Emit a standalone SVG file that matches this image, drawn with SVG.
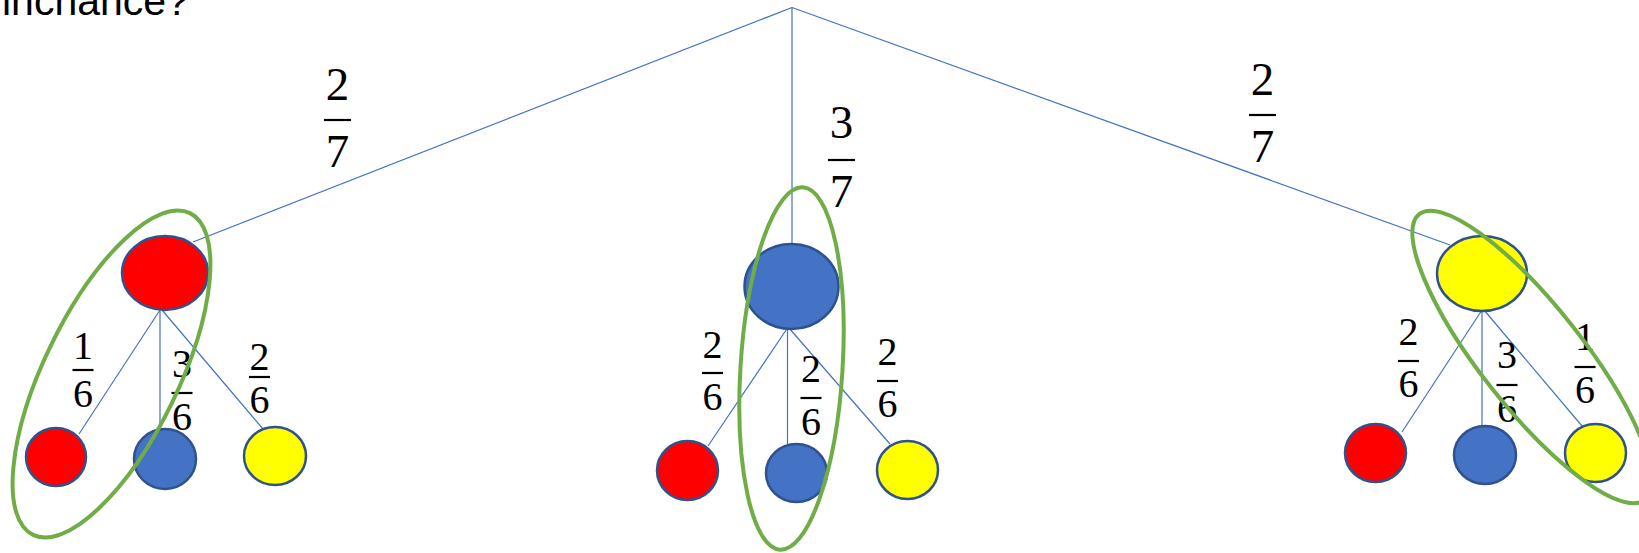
<svg xmlns="http://www.w3.org/2000/svg" width="1639" height="553" viewBox="0 0 1639 553">
<style>
.bg{fill:#ffffff}
.conn line{stroke:#4472C4;stroke-width:1.2;fill:none}
.node ellipse{stroke:#2F528F;stroke-width:2.5}
.red{fill:#FF0000}
.blue{fill:#4472C4}
.yellow{fill:#FFFF00}
.grp{fill:none;stroke:#70AD47;stroke-width:4}
.title{font-family:"Liberation Sans","Open Sans",sans-serif;font-size:41px;fill:#000}
.fb{font-family:"Liberation Serif","DejaVu Serif",serif;font-size:47px;fill:#000;text-anchor:middle}
.fs{font-family:"Liberation Serif","DejaVu Serif",serif;font-size:40px;fill:#000;text-anchor:middle}
.bar{stroke:#000;stroke-width:2.2}
</style>
<rect class="bg" x="0" y="0" width="1639" height="553"/>
<text class="title" x="2" y="15">inchance?</text>

<g id="connectors" class="conn">
  <line x1="792" y1="7.5" x2="193" y2="242"/>
  <line x1="792" y1="7.5" x2="792" y2="245"/>
  <line x1="792" y1="7.5" x2="1450" y2="245"/>
  <line x1="160" y1="310" x2="79" y2="434"/>
  <line x1="160" y1="310" x2="160" y2="430"/>
  <line x1="162" y1="310" x2="263" y2="429"/>
  <line x1="787.5" y1="328" x2="708" y2="446"/>
  <line x1="787.5" y1="328" x2="787.5" y2="444"/>
  <line x1="789" y1="328" x2="890" y2="444"/>
  <line x1="1482" y1="310" x2="1402" y2="432"/>
  <line x1="1482" y1="310" x2="1482" y2="426"/>
  <line x1="1484" y1="310" x2="1582" y2="426"/>
</g>

<g id="node-left-red" class="node"><ellipse class="red" cx="165" cy="273" rx="43" ry="37"/></g>
<g id="node-left-child-red" class="node"><ellipse class="red" cx="56" cy="457" rx="30" ry="29"/></g>
<g id="node-left-child-blue" class="node"><ellipse class="blue" cx="165" cy="459" rx="31" ry="30"/></g>
<g id="node-left-child-yellow" class="node"><ellipse class="yellow" cx="275" cy="456" rx="31" ry="29"/></g>

<g id="node-mid-blue" class="node"><ellipse class="blue" cx="791.5" cy="286.5" rx="47" ry="42.5"/></g>
<g id="node-mid-child-red" class="node"><ellipse class="red" cx="687.5" cy="470.5" rx="30.5" ry="29.5"/></g>
<g id="node-mid-child-blue" class="node"><ellipse class="blue" cx="796.5" cy="473" rx="30.5" ry="29"/></g>
<g id="node-mid-child-yellow" class="node"><ellipse class="yellow" cx="907.5" cy="470" rx="30.5" ry="29"/></g>

<g id="node-right-yellow" class="node"><ellipse class="yellow" cx="1482" cy="273.5" rx="45" ry="37.5"/></g>
<g id="node-right-child-red" class="node"><ellipse class="red" cx="1375.5" cy="453" rx="30.5" ry="29"/></g>
<g id="node-right-child-blue" class="node"><ellipse class="blue" cx="1485" cy="455" rx="31" ry="29"/></g>
<g id="node-right-child-yellow" class="node"><ellipse class="yellow" cx="1595.5" cy="453" rx="30.5" ry="29"/></g>

<g id="labels">
  <g id="frac-top-left"><text class="fb" x="337.5" y="100">2</text><line class="bar" x1="324" y1="120" x2="351" y2="120"/><text class="fb" x="337.5" y="167">7</text></g>
  <g id="frac-top-mid"><text class="fb" x="841.5" y="138">3</text><line class="bar" x1="828" y1="160" x2="855" y2="160"/><text class="fb" x="841.5" y="207">7</text></g>
  <g id="frac-top-right"><text class="fb" x="1262.5" y="95">2</text><line class="bar" x1="1249" y1="115" x2="1276" y2="115"/><text class="fb" x="1262.5" y="162">7</text></g>

  <g id="frac-l1"><text class="fs" x="83" y="359">1</text><line class="bar" x1="72.5" y1="370" x2="93.5" y2="370"/><text class="fs" x="83" y="407">6</text></g>
  <g id="frac-l2"><text class="fs" x="182" y="377">3</text><line class="bar" x1="171.5" y1="393" x2="192.5" y2="393"/><text class="fs" x="182" y="430">6</text></g>
  <g id="frac-l3"><text class="fs" x="259.5" y="370">2</text><line class="bar" x1="249" y1="377" x2="270" y2="377"/><text class="fs" x="259.5" y="413">6</text></g>

  <g id="frac-m1"><text class="fs" x="712.5" y="358">2</text><line class="bar" x1="702" y1="373" x2="723" y2="373"/><text class="fs" x="712.5" y="410">6</text></g>
  <g id="frac-m2"><text class="fs" x="811" y="382">2</text><line class="bar" x1="800.5" y1="398" x2="821.5" y2="398"/><text class="fs" x="811" y="435">6</text></g>
  <g id="frac-m3"><text class="fs" x="887.5" y="365">2</text><line class="bar" x1="877" y1="381" x2="898" y2="381"/><text class="fs" x="887.5" y="417">6</text></g>

  <g id="frac-r1"><text class="fs" x="1408.5" y="345">2</text><line class="bar" x1="1398" y1="361" x2="1419" y2="361"/><text class="fs" x="1408.5" y="397">6</text></g>
  <g id="frac-r2"><text class="fs" x="1507" y="368">3</text><line class="bar" x1="1496.5" y1="385" x2="1517.5" y2="385"/><text class="fs" x="1507" y="422">6</text></g>
  <g id="frac-r3"><text class="fs" x="1585" y="350">1</text><line class="bar" x1="1574.5" y1="367" x2="1595.5" y2="367"/><text class="fs" x="1585" y="403">6</text></g>
</g>

<g id="groups">
  <ellipse id="group-left" class="grp" cx="111.5" cy="374" rx="67" ry="179" transform="rotate(26 111.5 374)"/>
  <ellipse id="group-mid" class="grp" cx="791.5" cy="368.5" rx="51" ry="181.5" transform="rotate(3.6 791.5 368.5)"/>
  <ellipse id="group-right" class="grp" cx="1532" cy="357" rx="51" ry="182" transform="rotate(-38.3 1532 357)"/>
</g>
</svg>
